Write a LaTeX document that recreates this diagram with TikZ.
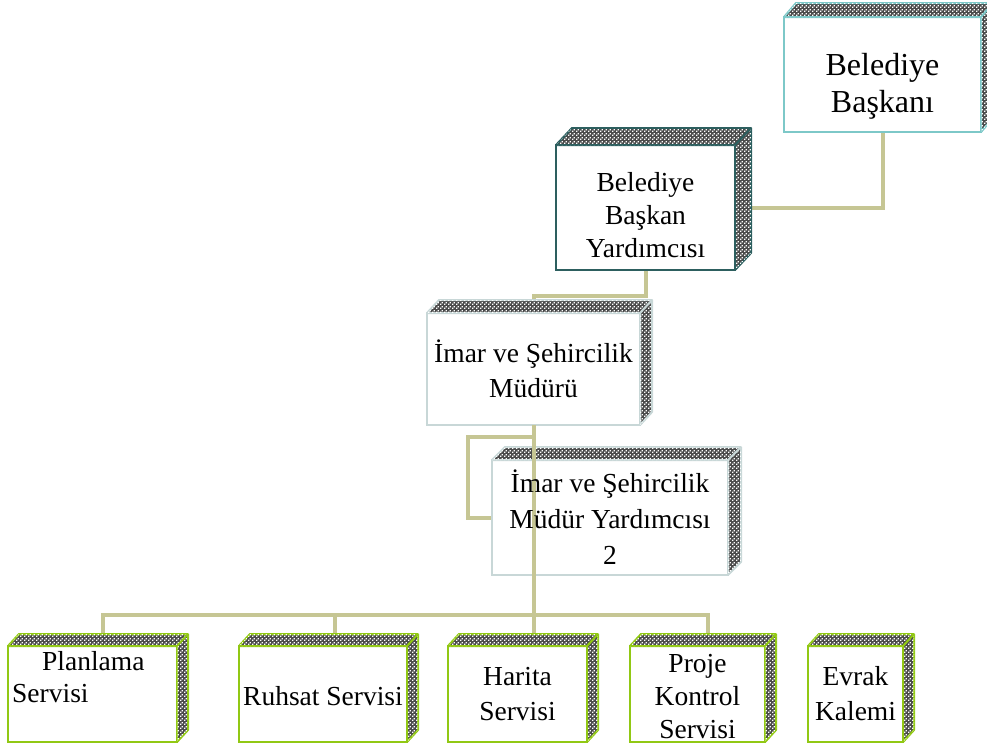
\documentclass[tikz,border=0pt]{standalone}
\usepackage{fontspec}
\setmainfont{Liberation Serif}
\usetikzlibrary{calc,patterns.meta}
\definecolor{connc}{RGB}{198,198,148}
\definecolor{tealL}{RGB}{125,200,200}
\definecolor{tealD}{RGB}{45,95,95}
\definecolor{grayB}{RGB}{200,215,215}
\definecolor{greenB}{RGB}{145,200,20}
\tikzdeclarepattern{name=weave, type=uncolored,
  bounding box={(0pt,0pt) and (4pt,4pt)}, tile size={(4pt,4pt)},
  code={\fill (0pt,0pt) rectangle (1.6pt,1.6pt); \fill (2pt,2pt) rectangle (3.6pt,3.6pt);}}
\tikzset{
  front/.style={draw=#1, line width=2pt, fill=white, inner sep=0pt, outer sep=0pt, rectangle},
  conn/.style={draw=connc, line width=4pt},
  txt/.style={inner sep=0pt, align=center, font=\fontsize{27.5}{#1}\selectfont},
  sides/.style={draw=#1, line width=2pt, line join=round, fill=black!70,
    postaction={pattern=weave, pattern color=white}},
}
\newcommand\cubesides[4]{%
  \draw[sides=#4] (#1.north west) -- ++(#2,-#3) -- ($(#1.north east)+(#2,-#3)$)
    -- ($(#1.south east)+(#2,-#3)$) -- (#1.south east) -- (#1.north east) -- cycle;
  \draw[draw=#4, line width=2pt] (#1.north east) -- ++(#2,-#3);
}
\begin{document}
\begin{tikzpicture}[x=1pt,y=-1pt]
\useasboundingbox (0,0) rectangle (987,748);
\clip (0,0) rectangle (987,748);
\coordinate (j) at (533.5,615);
\node[front=tealL, minimum width=197pt, minimum height=115pt] (b1) at (882.5,74.5) {};
\node[front=tealD, minimum width=179pt, minimum height=125pt] (b2) at (645.5,207.5) {};
\node[front=grayB, minimum width=213pt, minimum height=112pt] (b3) at (533.5,369) {};
\node[front=grayB, minimum width=236pt, minimum height=115pt] (b4) at (610,517.5) {};
\node[front=greenB, minimum width=169pt, minimum height=96pt] (b5) at (92.5,694) {};
\node[front=greenB, minimum width=168pt, minimum height=96pt] (b6) at (323,694) {};
\node[front=greenB, minimum width=139pt, minimum height=96pt] (b7) at (517.5,694) {};
\node[front=greenB, minimum width=135pt, minimum height=96pt] (b8) at (697.5,694) {};
\node[front=greenB, minimum width=95pt, minimum height=96pt] (b9) at (855.5,694) {};

% connectors behind boxes
\draw[conn] (b1.south) |- (b2.east);
\draw[conn] (b2.south) -- ++(0,26) -| (b3.north);
\draw[conn] ($(b3.south)+(0,12)$) -- ++(-65.5,0) |- (b4.west);
\draw[conn] (j) -| ($(b5.north)+(10.5,0)$);
\draw[conn] (j) -| ($(b6.north)+(12,0)$);
\draw[conn] (j) -| ($(b8.north)+(10.5,0)$);
\draw[conn] (j) -- (j |- b7.north);

% boxes redrawn over connectors
\node[front=tealL, minimum width=197pt, minimum height=115pt] at (b1) {};
\cubesides{b1}{12}{14}{tealL}
\node[front=tealD, minimum width=179pt, minimum height=125pt] at (b2) {};
\cubesides{b2}{16}{17}{tealD}
\node[front=grayB, minimum width=213pt, minimum height=112pt] at (b3) {};
\cubesides{b3}{12}{13}{grayB}
\node[front=grayB, minimum width=236pt, minimum height=115pt] at (b4) {};
\cubesides{b4}{13}{13}{grayB}
\node[front=greenB, minimum width=169pt, minimum height=96pt] at (b5) {};
\cubesides{b5}{11}{12}{greenB}
\node[front=greenB, minimum width=168pt, minimum height=96pt] at (b6) {};
\cubesides{b6}{11}{12}{greenB}
\node[front=greenB, minimum width=139pt, minimum height=96pt] at (b7) {};
\cubesides{b7}{11}{12}{greenB}
\node[front=greenB, minimum width=135pt, minimum height=96pt] at (b8) {};
\cubesides{b8}{11}{12}{greenB}
\node[front=greenB, minimum width=95pt, minimum height=96pt] at (b9) {};
\cubesides{b9}{11}{12}{greenB}

% vertical line running over box 4
\draw[conn] (b3.south) -- (j);

% texts
\node[inner sep=0pt, align=center, font=\fontsize{32}{37}\selectfont] (t1) at (882.5,86.1) {\strut Belediye\\\strut Başkanı};
\node[txt=33] (t2) at (645.5,217.4) {\strut Belediye\\\strut Başkan\\\strut Yardımcısı};
\node[txt=35] (t3) at (533.5,372.5) {\strut İmar ve Şehircilik\\\strut Müdürü};
\node[txt=36] (t4) at (610,520.8) {\strut İmar ve Şehircilik\\\strut Müdür Yardımcısı\\\strut 2};
\node[txt=32, align=left, anchor=west] (t5) at (12,679.6) {\strut\hspace*{30pt}Planlama\\\strut Servisi};
\node[txt=33] (t6) at (323,698.4) {\strut Ruhsat Servisi};
\node[txt=35] (t7) at (517.5,695.5) {\strut Harita\\\strut Servisi};
\node[txt=33] (t8) at (697.5,698.4) {\strut Proje\\\strut Kontrol\\\strut Servisi};
\node[txt=35] (t9) at (855.5,695.5) {\strut Evrak\\\strut Kalemi};
\end{tikzpicture}
\end{document}
